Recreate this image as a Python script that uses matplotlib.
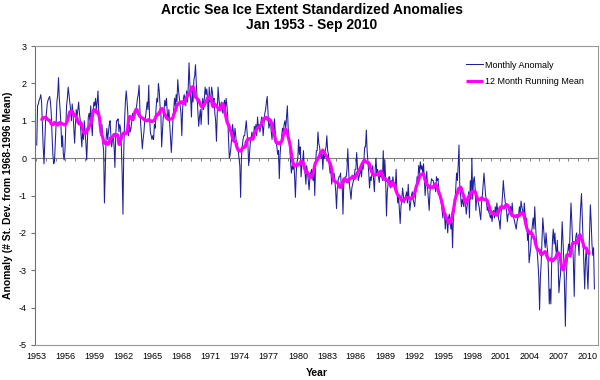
import numpy as np
import pandas as pd
import matplotlib
matplotlib.use("Agg")
import matplotlib.pyplot as plt

# ---------------- data ----------------
start_year = 1953
# monthly standardized anomalies, Jan 1953 ... Sep 2010 (one row per year)
monthly_anomaly = [
    0.35, 1.4, 1.45, 1.55, 1.6, 1.7, 1.5, 0.9, 0.3, -0.15, 0.4, 1.0,            # 1953
    1.2, 1.45, 1.55, 1.6, 1.65, 1.5, 1.2, 0.6, 0.1, -0.15, -0.1, 0.4,           # 1954
    0.9, 1.5, 1.7, 2.15, 1.6, 1.3, 0.9, 0.3, 0.6, 0.1, -0.05, 0.2,              # 1955
    0.8, 1.4, 1.6, 1.9, 1.7, 1.5, 1.3, 1.0, 1.45, 1.2, 0.8, 0.4,                # 1956
    0.9, 1.3, 1.1, 1.3, 1.5, 1.2, 1.0, 0.6, 0.3, 0.8, 0.5, 1.0,                 # 1957
    0.7, 0.4, -0.05, 0.5, 1.1, 1.2, 1.0, 1.4, 0.9, 0.6, 1.3, 1.5,               # 1958
    1.4, 1.6, 1.3, 1.5, 1.8, 1.2, 1.0, 0.7, 0.6, 0.9, 0.4, 0.2,                 # 1959
    -1.2, -0.3, 0.5, 0.8, 0.5, 0.7, 0.9, 1.0, 0.6, 0.3, 0.5, 0.6,               # 1960
    0.3, -0.25, 0.6, 1.0, 1.0, 1.05, 0.7, 0.9, 0.8, 0.3, -0.4, -1.5,            # 1961
    0.2, 1.0, 1.5, 1.8, 1.55, 1.2, 0.6, 0.9, 0.7, 0.8, 1.0, 1.2,                # 1962
    1.0, 1.1, 1.2, 1.3, 1.4, 1.6, 1.7, 1.95, 1.3, 0.9, 0.6, 0.25,               # 1963
    0.5, 0.7, 1.0, 1.1, 1.3, 1.5, 1.3, 1.95, 1.1, 0.7, 0.6, 0.5,                # 1964
    0.6, 0.5, 0.9, 0.8, 1.3, 1.6, 1.5, 2.0, 1.8, 1.4, 1.2, 0.3,                 # 1965
    0.7, 1.1, 1.3, 1.55, 1.4, 1.6, 1.2, 1.0, 1.3, 0.9, 0.5, 0.15,               # 1966
    0.6, 1.0, 1.3, 1.6, 1.4, 1.7, 1.5, 2.1, 1.8, 1.6, 1.4, 1.2,                 # 1967
    0.6, 1.3, 1.6, 1.7, 1.55, 1.4, 1.8, 1.5, 1.9, 2.55, 2.0, 1.6,               # 1968
    1.1, 1.9, 1.5, 2.1, 2.2, 2.5, 2.0, 1.6, 1.2, 0.85, 1.1, 1.3,                # 1969
    0.9, 1.3, 1.6, 1.3, 1.6, 1.9, 1.7, 1.85, 1.6, 0.9, 1.9, 1.5,                # 1970
    1.6, 1.9, 1.75, 1.5, 1.6, 1.2, 1.0, 0.45, 1.2, 1.9, 1.6, 1.4,               # 1971
    1.3, 1.5, 1.3, 1.2, 1.4, 1.55, 1.3, 1.6, 1.4, 1.1, 0.5, 0.0,                # 1972
    0.1, 0.3, 0.6, 0.9, 0.7, 0.5, 0.8, 0.6, 0.3, 0.4, 0.2, 0.0,                 # 1973
    -0.2, -1.05, 0.0, 0.3, 0.5, 0.6, 0.6, 0.8, 1.0, 0.7, 0.4, -0.2,             # 1974
    0.1, 0.4, 0.5, 0.7, 0.6, 0.5, 0.85, 0.7, 0.9, 0.6, 1.1, 0.8,                # 1975
    0.9, 0.7, 0.9, 1.1, 0.9, 0.6, 0.9, 1.2, 1.3, 1.5, 1.65, 1.2,                # 1976
    0.8, 0.9, 1.0, 0.7, 0.5, 0.95, 0.6, 1.05, 0.7, 0.45, 0.3, 0.1,              # 1977
    0.2, -0.55, 0.1, 0.4, 0.6, 0.8, 0.7, 0.9, 1.0, 0.8, 1.1, 1.4,               # 1978
    0.8, 0.5, 0.3, -0.1, -0.4, -0.2, -0.3, -0.1, -0.5, -1.05, -0.4, -0.1,       # 1979
    0.0, 0.5, 0.1, 0.3, -0.5, -0.2, -0.1, 0.2, -0.3, -0.4, -0.7, -0.2,          # 1980
    -0.4, -0.6, -0.85, -0.5, -0.4, -0.3, -0.5, -0.6, -0.3, -1.0, -0.2, 0.2,     # 1981
    0.2, 0.7, 0.4, 0.3, 0.1, 0.0, 0.2, -0.3, 0.1, 0.0, 0.2, 0.3,                # 1982
    0.6, 0.2, 0.1, -0.2, -0.4, -0.3, -0.7, -0.5, -0.5, -0.4, -0.6, -0.9,        # 1983
    -1.35, -0.8, -0.6, -0.5, -0.5, -0.4, -0.8, -0.7, -1.5, -0.7, -0.6, -0.5,    # 1984
    -0.5, -0.3, 0.25, -0.3, -0.7, -0.9, -1.1, -0.8, -0.7, -0.6, -0.5, -0.3,     # 1985
    -0.3, 0.15, -0.2, -0.6, -0.5, -0.4, -0.3, -0.5, -0.2, -0.3, -0.05, 0.3,     # 1986
    0.3, 0.75, 0.2, -0.1, -0.4, -0.8, -0.5, -0.6, -0.4, -0.2, -0.6, -0.9,       # 1987
    -0.3, 0.0, -0.4, -0.3, -0.5, -0.65, -0.4, -0.5, -0.35, -0.6, 0.2, -0.6,     # 1988
    -0.05, -0.6, -1.55, -0.9, -0.7, -0.5, -0.5, -0.8, -0.6, -0.7, -0.5, -0.7,   # 1989
    -0.8, -0.75, -0.3, -0.9, -1.2, -1.0, -1.4, -1.75, -1.3, -1.1, -0.8, -1.0,   # 1990
    -1.2, -1.1, -1.0, -0.9, -1.2, -0.7, -1.1, -1.4, -1.2, -1.0, -0.9, -1.1,     # 1991
    -1.2, -1.3, -1.0, -0.8, -0.5, -0.6, -0.2, -0.4, -0.1, -0.3, -0.2, -0.4,     # 1992
    -0.15, -0.6, -1.0, -0.7, -0.35, -0.8, -1.1, -1.4, -0.9, -0.7, -0.55, -0.6,  # 1993
    -0.6, -0.8, -0.7, -0.9, -0.5, -0.6, -0.55, -0.9, -0.9, -1.1, -1.2, -1.4,    # 1994
    -1.6, -1.3, -1.5, -1.9, -1.5, -1.7, -2.0, -1.6, -1.5, -1.7, -1.9, -1.6,     # 1995
    -2.4, -1.6, -1.4, -1.2, -0.8, -0.4, -0.6, -0.2, 0.35, -0.8, -1.0, -1.3,     # 1996
    -1.1, -1.2, -1.3, -1.0, -1.2, -1.5, -1.3, -1.1, -0.9, -1.6, -0.6, -1.1,     # 1997
    0.0, -1.1, -0.6, -0.5, -0.8, -1.4, -1.0, -1.1, -1.2, -1.3, -1.5, -1.65,     # 1998
    -1.2, -1.0, -0.7, -0.4, -0.7, -1.0, -1.1, -1.4, -1.3, -1.45, -1.5, -1.6,    # 1999
    -1.5, -1.7, -1.5, -1.4, -1.6, -1.3, -1.5, -1.2, -1.4, -1.6, -1.7, -1.9,     # 2000
    -1.5, -1.3, -1.0, -0.6, -0.9, -1.1, -1.3, -1.4, -1.7, -1.5, -1.5, -1.3,     # 2001
    -1.3, -1.5, -1.2, -1.5, -1.6, -1.7, -1.8, -1.9, -1.7, -1.6, -1.5, -1.3,     # 2002
    -1.5, -1.15, -1.3, -1.4, -1.6, -1.2, -1.5, -1.8, -1.6, -2.2, -2.0, -2.8,    # 2003
    -2.6, -2.4, -2.0, -1.8, -1.6, -1.9, -1.3, -1.8, -2.2, -2.5, -2.8, -3.2,     # 2004
    -4.06, -3.2, -2.8, -2.2, -1.6, -1.9, -2.2, -2.4, -2.0, -2.3, -2.5, -3.0,    # 2005
    -3.9, -3.5, -3.9, -2.8, -2.2, -1.9, -2.3, -2.0, -2.4, -2.6, -2.2, -2.8,     # 2006
    -3.6, -3.3, -3.1, -2.4, -1.7, -2.2, -2.7, -3.5, -4.5, -3.3, -2.8, -2.5,     # 2007
    -2.3, -2.5, -1.8, -1.2, -1.7, -2.3, -2.8, -3.7, -2.5, -2.1, -2.0, -2.2,     # 2008
    -2.3, -2.6, -1.8, -1.3, -0.95, -1.6, -2.3, -2.9, -3.5, -2.7, -2.4, -3.0,    # 2009
    -3.5, -2.8, -2.0, -1.25, -1.7, -2.3, -2.6, -2.4, -3.5,                      # 2010 (Jan-Sep)
]
tick_years = list(range(1953, 2011, 3))
y_ticks = list(range(-5, 4))
series_labels = ["Monthly Anomaly", "12 Month Running Mean"]
title_text = "Arctic Sea Ice Extent Standardized Anomalies\nJan 1953 - Sep 2010"
y_label = "Anomaly (# St. Dev. from 1968-1996 Mean)"
x_label = "Year"

# ---------------- styling ----------------
plt.rcParams['font.family'] = ['Liberation Sans', 'DejaVu Sans']
plt.rcParams['axes.unicode_minus'] = False

W, H = 600, 380
fig = plt.figure(figsize=(W / 100, H / 100), dpi=100)
fig.patch.set_facecolor('white')

ax_l, ax_r, ax_t, ax_b = 35, 597.7, 46, 345
ax = fig.add_axes([ax_l / W, 1 - ax_b / H, (ax_r - ax_l) / W, (ax_b - ax_t) / H])

x = start_year + np.arange(len(monthly_anomaly)) / 12.0
running_mean = pd.Series(monthly_anomaly).rolling(12, center=True).mean()

ax.plot(x, monthly_anomaly, color='#1f1f99', lw=0.75, label=series_labels[0], zorder=3)
ax.plot(x, running_mean, color='#ff00ff', lw=2.3, label=series_labels[1], zorder=4,
        solid_capstyle='butt')

ax.set_xlim(1952.82, 2011.01)
ax.set_ylim(-5, 3)
ax.set_yticks(y_ticks)
ax.set_yticklabels([str(v) for v in y_ticks])
ax.set_xticks(tick_years)
ax.set_xticklabels([str(v) for v in tick_years])
ax.tick_params(axis='x', length=0, labelsize=6.5, pad=5)
ax.tick_params(axis='y', length=3, direction='out', labelsize=6.5, pad=3,
               color='#707070', width=0.8)

for name, sp in ax.spines.items():
    sp.set_color('#999999')
    sp.set_linewidth(0.8)
ax.spines['left'].set_color('#707070')

# horizontal category axis at y = 0 with yearly tick marks
zero_frac = (0 - (-5)) / 8.0
sec = ax.secondary_xaxis(zero_frac)
sec.set_xticks(np.arange(1953, 2011) - 1 / 24)
sec.tick_params(axis='x', direction='in', length=2.5, width=0.7, color='#808080',
                labeltop=False, labelbottom=False)
for sp in sec.spines.values():
    sp.set_color('#808080')
    sp.set_linewidth(0.8)

leg = ax.legend(loc='upper left', bbox_to_anchor=(466 / W, 1 - 60.5 / H),
                bbox_transform=fig.transFigure, frameon=False, fontsize=6.5,
                borderpad=0, borderaxespad=0, handlelength=1.9, handletextpad=0.25,
                labelspacing=0.85)

fig.text(312 / W, 1 - 17.5 / H, title_text, ha='center', va='center',
         fontsize=10, fontweight='bold', linespacing=1.15)
fig.text(8 / W, 1 - 195.5 / H, y_label, rotation=90, ha='center', va='center',
         fontsize=7.5, fontweight='bold')
fig.text(317 / W, 1 - 373 / H, x_label, ha='center', va='center',
         fontsize=7.5, fontweight='bold')

fig.savefig('out.png', dpi=100, facecolor='white')
